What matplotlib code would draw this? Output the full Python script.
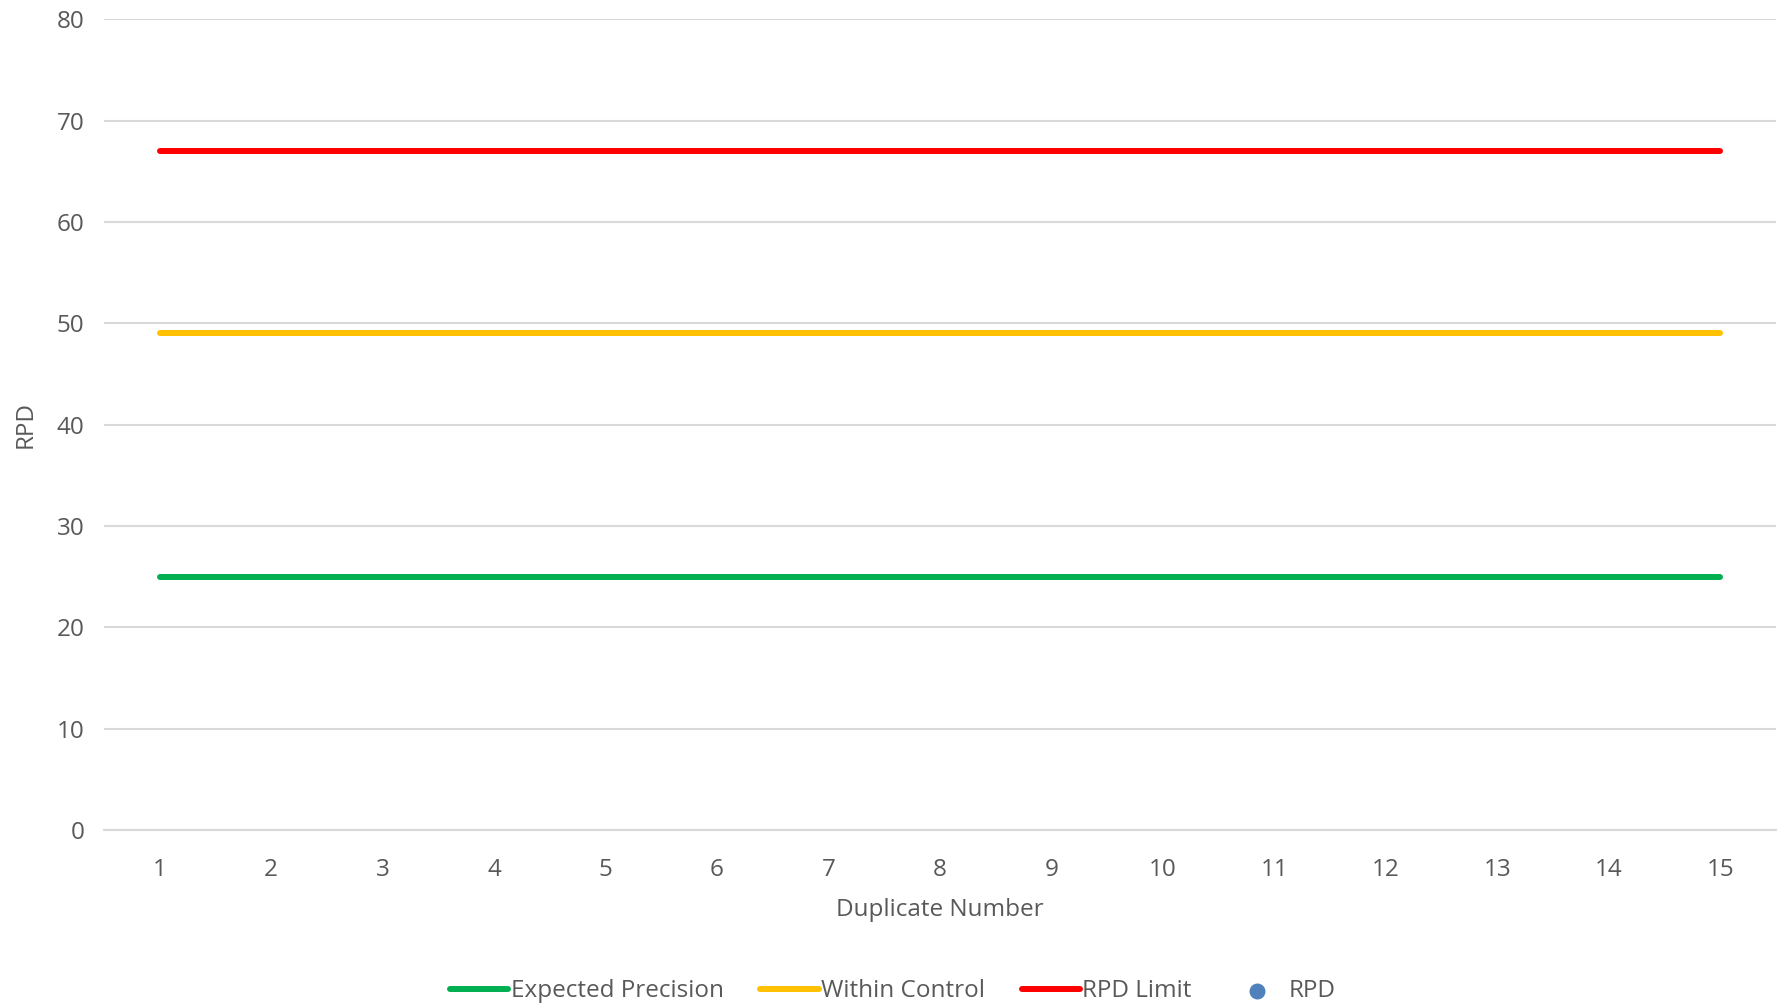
import matplotlib.pyplot as plt

plt.rcParams['font.family'] = ['Open Sans', 'DejaVu Sans']

duplicates = list(range(1, 16))
expected_precision = [25] * 15
within_control = [49] * 15
rpd_limit = [67] * 15
rpd = []  # no points plotted in the reference
rpd_x = []

fig = plt.figure(figsize=(17.86, 10.08), dpi=100)
ax = fig.add_axes([0.0582, 0.1766, 0.9362, 0.8044])

ax.plot(duplicates, expected_precision, color='#00B050', lw=4.3,
        solid_capstyle='round', label='Expected Precision', zorder=3)
ax.plot(duplicates, within_control, color='#FFC000', lw=4.3,
        solid_capstyle='round', label='Within Control', zorder=3)
ax.plot(duplicates, rpd_limit, color='#FF0000', lw=4.3,
        solid_capstyle='round', label='RPD Limit', zorder=3)
ax.scatter(rpd_x, rpd, color='#4F81BD', s=110, label='RPD', zorder=4)

ax.set_xlim(0.5, 15.5)
ax.set_ylim(0, 80)
ax.set_xticks(duplicates)
ax.set_yticks(range(0, 81, 10))
ax.grid(axis='y', color='#D9D9D9', lw=1.5)
ax.set_axisbelow(True)
for s in ['top', 'right', 'left']:
    ax.spines[s].set_visible(False)
ax.spines['bottom'].set_color('#D9D9D9')
ax.spines['bottom'].set_linewidth(1.5)
ax.tick_params(length=0, labelsize=17.5, colors='#595959', pad=20)
ax.tick_params(axis='y', pad=14)

ax.set_xlabel('Duplicate Number', fontsize=17.5, color='#595959', labelpad=12)
ax.set_ylabel('RPD', fontsize=17.5, color='#595959', labelpad=14)

fig.legend(loc='lower center', bbox_to_anchor=(0.5, -0.017), ncol=4, frameon=False,
           fontsize=17.5, labelcolor='#595959', handlelength=2.4,
           columnspacing=1.5, handletextpad=0.1)

plt.savefig('out.png')
